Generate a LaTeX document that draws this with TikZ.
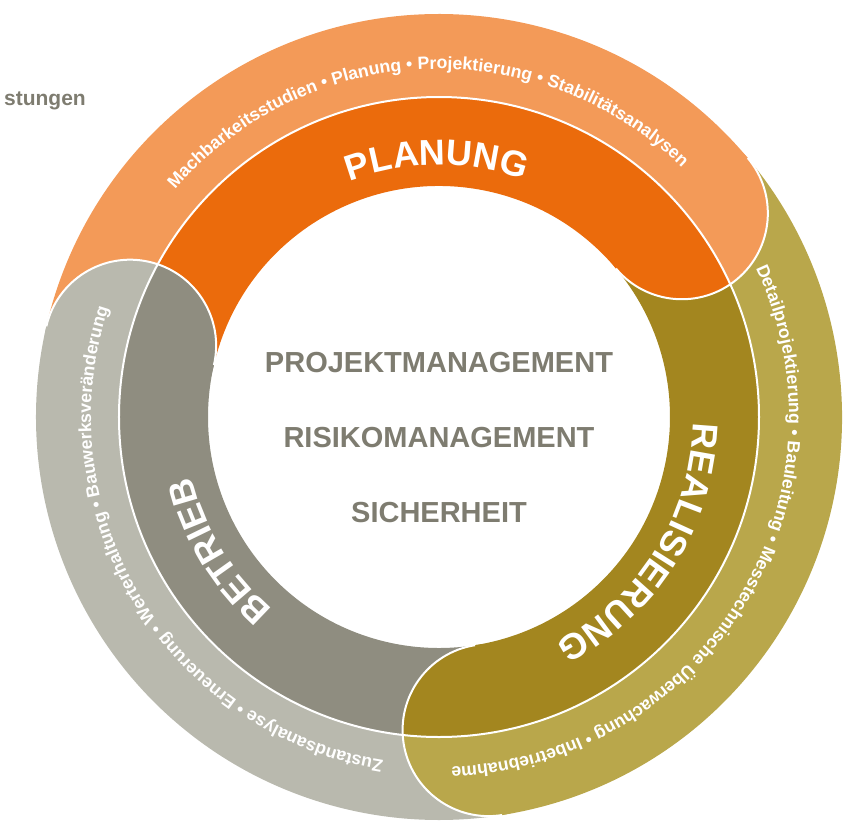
\documentclass[tikz,border=0pt]{standalone}
\usepackage{fontspec}
\setmainfont{Liberation Sans}
\usetikzlibrary{decorations.text}

\definecolor{planhell}{HTML}{F39A58}
\definecolor{plandunkel}{HTML}{EB6B0C}
\definecolor{realhell}{HTML}{B9A74B}
\definecolor{realdunkel}{HTML}{A3861F}
\definecolor{betrhell}{HTML}{B9B9AE}
\definecolor{betrdunkel}{HTML}{8F8D80}
\definecolor{textgrau}{HTML}{7E7C70}

\newcommand{\bandfont}{\color{white}\bfseries\fontsize{17.7}{20}\selectfont}
\newcommand{\titelfont}{\color{white}\bfseries\fontsize{36}{40}\selectfont}

\tikzset{
	capline/.style={white, line width=2pt},
	mitte/.style={anchor=base, inner sep=0pt, text=textgrau, font=\bfseries\fontsize{29}{32}\selectfont},
	ringtext/.style={decorate, decoration={text along path, text align=center, text={#1}}}
}

\begin{document}
\begin{tikzpicture}[x=1pt, y=1pt]
		\useasboundingbox (-439,-403) rectangle (420,417);
		\clip (-439,-403) rectangle (420,417);
		\fill[planhell] (40:403) arc[start angle=40, end angle=167, radius=403] -- (167:320) arc[start angle=167, end angle=40, radius=320] -- cycle;
		\fill[plandunkel] (40:320) arc[start angle=40, end angle=167, radius=320] -- (167:231) arc[start angle=167, end angle=40, radius=231] -- cycle;
		\fill[realhell] (-81:403) arc[start angle=-81, end angle=40, radius=403] -- (40:320) arc[start angle=40, end angle=-81, radius=320] -- cycle;
		\fill[realdunkel] (-81:320) arc[start angle=-81, end angle=40, radius=320] -- (40:231) arc[start angle=40, end angle=-81, radius=231] -- cycle;
		\fill[betrhell] (167:403) arc[start angle=167, end angle=279, radius=403] -- (279:320) arc[start angle=279, end angle=167, radius=320] -- cycle;
		\fill[betrdunkel] (167:320) arc[start angle=167, end angle=279, radius=320] -- (279:231) arc[start angle=279, end angle=167, radius=231] -- cycle;
		\begin{scope}
			\clip (0:404) arc[start angle=0, end angle=360, radius=404] -- (0:320) arc[start angle=360, end angle=0, radius=320] -- cycle;
			\fill[planhell] (40:317) circle[radius=86];
			\fill[realhell] (-81:317) circle[radius=86];
			\fill[betrhell] (167:317) circle[radius=86];
		\end{scope}
		\begin{scope}
			\clip (0,0) circle[radius=320];
			\fill[plandunkel] (40:317) circle[radius=86];
			\fill[realdunkel] (-81:317) circle[radius=86];
			\fill[betrdunkel] (167:317) circle[radius=86];
		\end{scope}
		\draw[capline] (40:403) arc[start angle=40, end angle=-140, radius=86];
		\draw[capline] (-81:403) arc[start angle=-81, end angle=-261, radius=86];
		\draw[capline] (167:403) arc[start angle=167, end angle=-13, radius=86];
		\draw[capline] (0,0) circle[radius=320];
		\path[ringtext={|\bandfont|Machbarkeitsstudien • Planung • Projektierung • Stabilitätsanalysen}] (152.5:348) arc[start angle=152.5, end angle=32.5, radius=348];
		\path[ringtext={|\bandfont|Detailprojektierung • Bauleitung • Messtechnische Überwachung • Inbetriebnahme}] (38.6:350) arc[start angle=38.6, end angle=-101.4, radius=350];
		\path[ringtext={|\bandfont|Zustandsanalyse • Erneuerung • Werterhaltung • Bauwerksveränderung}] (-88.7:348) arc[start angle=-88.7, end angle=-208.7, radius=348];
		\path[ringtext={|\titelfont|PLANUNG}] (150.5:252) arc[start angle=150.5, end angle=30.5, radius=252];
		\path[ringtext={|\titelfont|REALISIERUNG}] (28:254) arc[start angle=28, end angle=-92, radius=254];
		\path[ringtext={|\titelfont|BETRIEB}] (-88.7:254) arc[start angle=-88.7, end angle=-208.7, radius=254];
		\node[mitte] (pm) at (0,45) {PROJEKTMANAGEMENT};
		\node[mitte] (rm) at (0,-30) {RISIKOMANAGEMENT};
		\node[mitte] (sh) at (0,-105) {SICHERHEIT};
		\node[anchor=base east, inner sep=0pt, text=textgrau, font=\bfseries\fontsize{21}{24}\selectfont] (lst) at (-353,312) {stungen};
\end{tikzpicture}
\end{document}
